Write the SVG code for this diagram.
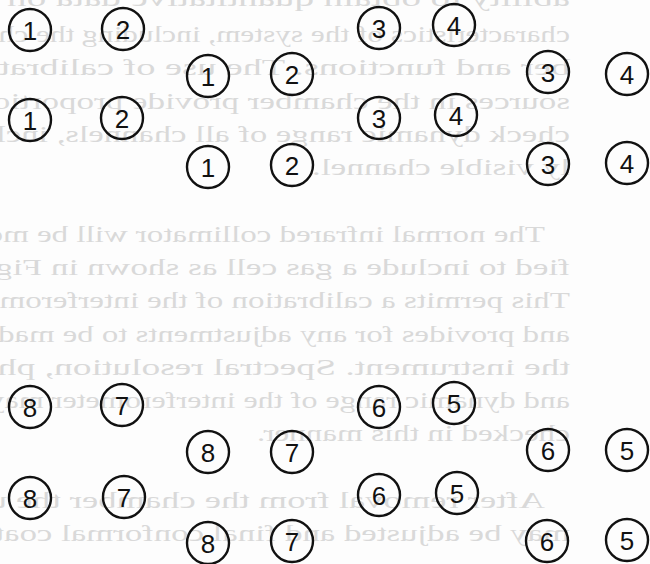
<svg xmlns="http://www.w3.org/2000/svg" width="650" height="564" viewBox="0 0 650 564">
<style>
.bt{font-family:"Liberation Serif","DejaVu Serif",serif;font-size:23px;fill:#d9d9d9}
.n circle{fill:none;stroke:#111;stroke-width:2.4}
.n text{font-family:"Liberation Sans",Arial,sans-serif;font-size:26px;text-anchor:middle;fill:#111}
</style>
<rect width="650" height="564" fill="#fdfdfd"/>
<g id="bleed-through" transform="matrix(-1 0 0 1 650 0)">
<text class="bt" x="80" y="6" textLength="620" lengthAdjust="spacingAndGlyphs">ability to obtain quantitative data on the</text>
<text class="bt" x="80" y="42" textLength="620" lengthAdjust="spacingAndGlyphs">characteristics of the system, including the cham-</text>
<text class="bt" x="80" y="75" textLength="620" lengthAdjust="spacingAndGlyphs">ber and functions.  The use of calibration</text>
<text class="bt" x="80" y="109" textLength="620" lengthAdjust="spacingAndGlyphs">sources in the chamber provide proportional</text>
<text class="bt" x="80" y="142" textLength="620" lengthAdjust="spacingAndGlyphs">check dynamic range of all channels, includ-</text>
<text class="bt" x="80" y="175" textLength="258" lengthAdjust="spacingAndGlyphs">ly visible channel.</text>
<text class="bt" x="105" y="242" textLength="595" lengthAdjust="spacingAndGlyphs">The normal infrared collimator will be modi-</text>
<text class="bt" x="80" y="275" textLength="620" lengthAdjust="spacingAndGlyphs">fied to include a gas cell as shown in Figure</text>
<text class="bt" x="80" y="308" textLength="620" lengthAdjust="spacingAndGlyphs">This permits a calibration of the interferometer</text>
<text class="bt" x="80" y="342" textLength="620" lengthAdjust="spacingAndGlyphs">and provides for any adjustments to be made to</text>
<text class="bt" x="80" y="375" textLength="620" lengthAdjust="spacingAndGlyphs">the instrument.  Spectral resolution, phase</text>
<text class="bt" x="80" y="408" textLength="620" lengthAdjust="spacingAndGlyphs">and dynamic range of the interferometer may be</text>
<text class="bt" x="80" y="441" textLength="313" lengthAdjust="spacingAndGlyphs">checked in this manner.</text>
<text class="bt" x="105" y="508" textLength="595" lengthAdjust="spacingAndGlyphs">After removal from the chamber the unit</text>
<text class="bt" x="80" y="541" textLength="620" lengthAdjust="spacingAndGlyphs">may be adjusted and final conformal coating</text>
</g>
<g id="rowA">
<g id="a1" class="n"><circle cx="30" cy="30" r="21"/><text x="30" y="39.5">1</text></g>
<g id="a2" class="n"><circle cx="123" cy="29" r="21"/><text x="123" y="38.5">2</text></g>
<g id="a3" class="n"><circle cx="379" cy="28" r="21"/><text x="379" y="37.5">3</text></g>
<g id="a4" class="n"><circle cx="454" cy="25" r="21"/><text x="454" y="34.5">4</text></g>
</g>
<g id="rowB">
<g id="b1" class="n"><circle cx="208" cy="76" r="21"/><text x="208" y="85.5">1</text></g>
<g id="b2" class="n"><circle cx="292" cy="74" r="21"/><text x="292" y="83.5">2</text></g>
<g id="b3" class="n"><circle cx="548" cy="72" r="21"/><text x="548" y="81.5">3</text></g>
<g id="b4" class="n"><circle cx="627" cy="74" r="21"/><text x="627" y="83.5">4</text></g>
</g>
<g id="rowC">
<g id="c1" class="n"><circle cx="30" cy="120" r="21"/><text x="30" y="129.5">1</text></g>
<g id="c2" class="n"><circle cx="122" cy="118" r="21"/><text x="122" y="127.5">2</text></g>
<g id="c3" class="n"><circle cx="379" cy="118" r="21"/><text x="379" y="127.5">3</text></g>
<g id="c4" class="n"><circle cx="456" cy="115" r="21"/><text x="456" y="124.5">4</text></g>
</g>
<g id="rowD">
<g id="d1" class="n"><circle cx="208" cy="167" r="21"/><text x="208" y="176.5">1</text></g>
<g id="d2" class="n"><circle cx="292" cy="165" r="21"/><text x="292" y="174.5">2</text></g>
<g id="d3" class="n"><circle cx="548" cy="164" r="21"/><text x="548" y="173.5">3</text></g>
<g id="d4" class="n"><circle cx="627" cy="163" r="21"/><text x="627" y="172.5">4</text></g>
</g>
<g id="rowE">
<g id="e8" class="n"><circle cx="30" cy="407" r="21"/><text x="30" y="416.5">8</text></g>
<g id="e7" class="n"><circle cx="122" cy="405" r="21"/><text x="122" y="414.5">7</text></g>
<g id="e6" class="n"><circle cx="379" cy="407" r="21"/><text x="379" y="416.5">6</text></g>
<g id="e5" class="n"><circle cx="454" cy="403" r="21"/><text x="454" y="412.5">5</text></g>
</g>
<g id="rowF">
<g id="f8" class="n"><circle cx="208" cy="452" r="21"/><text x="208" y="461.5">8</text></g>
<g id="f7" class="n"><circle cx="292" cy="452" r="21"/><text x="292" y="461.5">7</text></g>
<g id="f6" class="n"><circle cx="548" cy="450" r="21"/><text x="548" y="459.5">6</text></g>
<g id="f5" class="n"><circle cx="627" cy="450" r="21"/><text x="627" y="459.5">5</text></g>
</g>
<g id="rowG">
<g id="g8" class="n"><circle cx="30" cy="498" r="21"/><text x="30" y="507.5">8</text></g>
<g id="g7" class="n"><circle cx="124" cy="497" r="21"/><text x="124" y="506.5">7</text></g>
<g id="g6" class="n"><circle cx="379" cy="495" r="21"/><text x="379" y="504.5">6</text></g>
<g id="g5" class="n"><circle cx="457" cy="493" r="21"/><text x="457" y="502.5">5</text></g>
</g>
<g id="rowH">
<g id="h8" class="n"><circle cx="208" cy="543" r="21"/><text x="208" y="552.5">8</text></g>
<g id="h7" class="n"><circle cx="292" cy="541" r="21"/><text x="292" y="550.5">7</text></g>
<g id="h6" class="n"><circle cx="547" cy="541" r="21"/><text x="547" y="550.5">6</text></g>
<g id="h5" class="n"><circle cx="627" cy="540" r="21"/><text x="627" y="549.5">5</text></g>
</g>
</svg>
